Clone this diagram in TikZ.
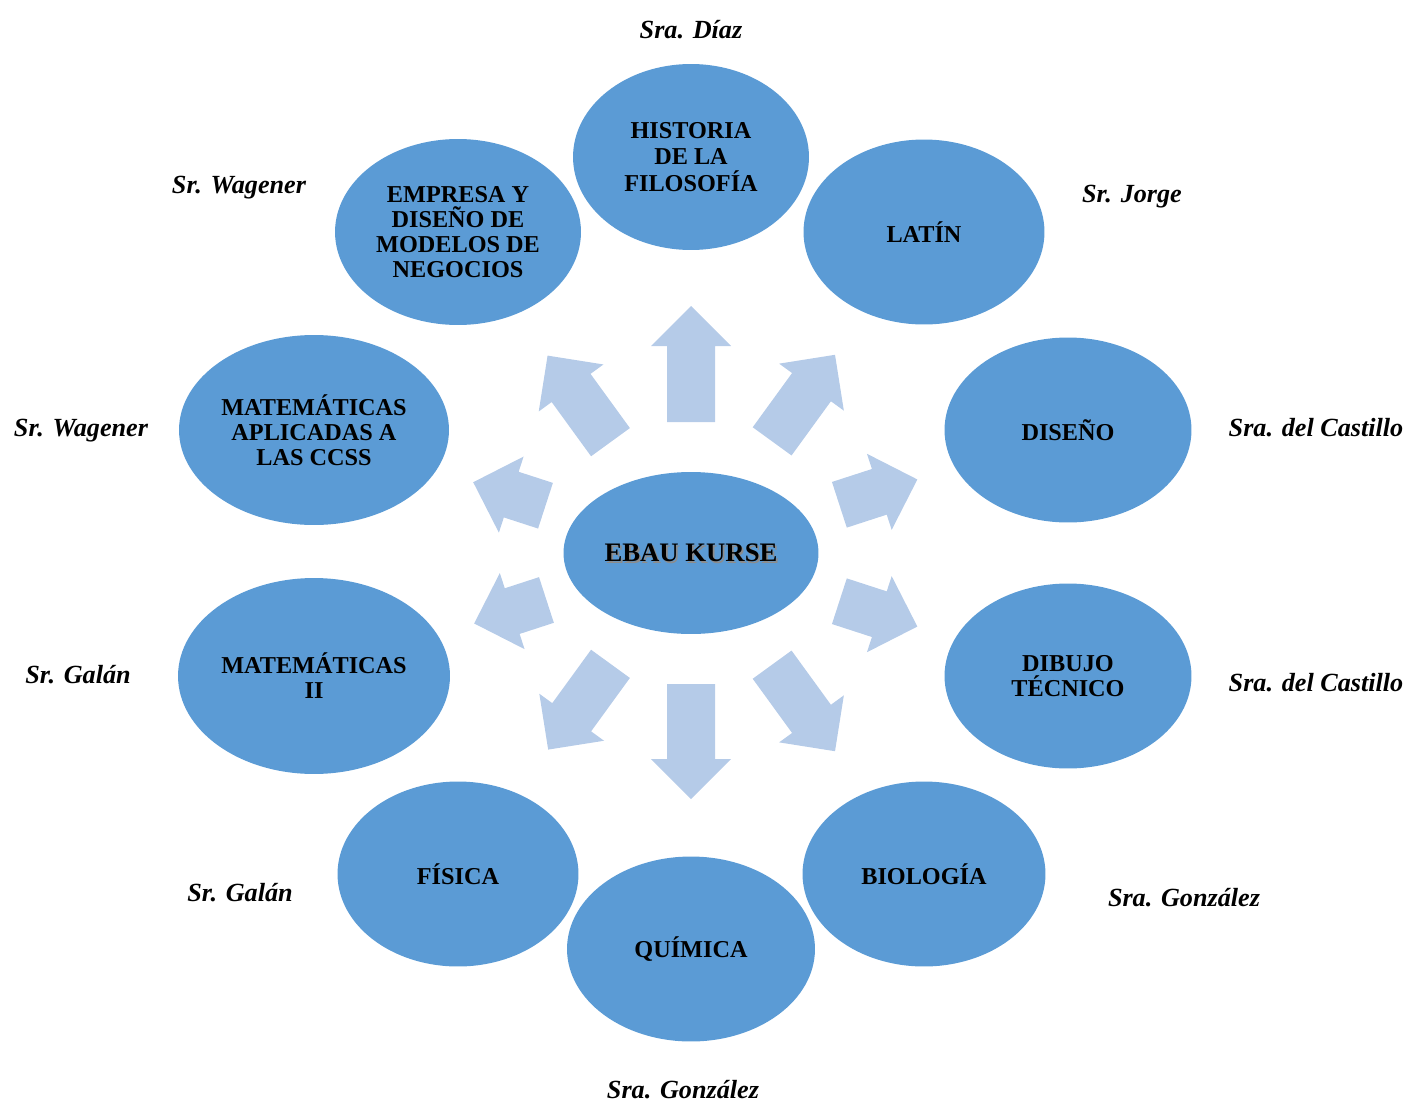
\documentclass[tikz,border=0pt]{standalone}
\usepackage{fontspec}
\setmainfont{Liberation Serif}
\usetikzlibrary{shapes.geometric}
\definecolor{kreis}{HTML}{5B9BD5}
\definecolor{pfeil}{HTML}{B5CBE8}

\begin{document}
\begin{tikzpicture}[x=0.02cm,y=-0.02cm,
  fach/.style={ellipse,fill=kreis,inner sep=0pt,align=center,
    font=\fontsize{13.8}{14.2}\selectfont\bfseries},
  lehrer/.style={font=\fontsize{14.9}{16}\selectfont\bfseries\itshape}]
 \useasboundingbox (0,0) rectangle (1406,1102);
 % mitte
 \node[fach,minimum width=5.10cm,minimum height=3.24cm] (ebau) at (691,553) {};
 \node[text=black!45,font=\fontsize{15.2}{17}\selectfont\bfseries] at ([xshift=1pt,yshift=-1pt]ebau.center) {EBAU KURSE};
 \node[font=\fontsize{15.2}{17}\selectfont\bfseries] (ebaut) at (ebau.center) {EBAU KURSE};
 % pfeile
 \foreach \a/\ra/\rb in {90/131/247,54/138/245,18/156/238,-18/156/238,-54/138/245,
   -90/131/246,-126/137/243,-162/152/228,162/153/229,126/137/244}
  \fill[pfeil,shift={(ebau.center)},rotate=\a] (\ra,24)--(\rb-40,24)--(\rb-40,40)--(\rb,0)
   --(\rb-40,-40)--(\rb-40,-24)--(\ra,-24)--cycle;
 % faecher
 \node[fach,minimum width=4.72cm,minimum height=3.72cm,font=\fontsize{13.8}{15.3}\selectfont\bfseries] (hist) at (691,157) {HISTORIA\\DE LA\\FILOSOFÍA};
 \node[fach,minimum width=4.82cm,minimum height=3.70cm] (latin) at (924,232) {LATÍN};
 \node[fach,minimum width=4.94cm,minimum height=3.70cm] (diseno) at (1068,430) {DISEÑO};
 \node[fach,minimum width=4.94cm,minimum height=3.70cm] (dibujo) at (1068,676) {DIBUJO\\TÉCNICO};
 \node[fach,minimum width=4.86cm,minimum height=3.70cm] (bio) at (924,874) {BIOLOGÍA};
 \node[fach,minimum width=4.96cm,minimum height=3.70cm] (quimica) at (691,949) {QUÍMICA};
 \node[fach,minimum width=4.82cm,minimum height=3.70cm] (fisica) at (458,874) {FÍSICA};
 \node[fach,minimum width=5.44cm,minimum height=3.92cm] (mate) at (314,676) {MATEMÁTICAS\\II};
 \node[fach,minimum width=5.40cm,minimum height=3.80cm] (macs) at (314,430) {MATEMÁTICAS\\APLICADAS A\\LAS CCSS};
 \node[fach,minimum width=4.92cm,minimum height=3.72cm] (empresa) at (458,232) {EMPRESA Y\\DISEÑO DE\\MODELOS DE\\NEGOCIOS};
 % lehrer
 \node[lehrer] (l1) at (691,30) {Sra. Díaz};
 \node[lehrer] (l2) at (1132,197) {Sr. Jorge};
 \node[lehrer] (l3) at (1316,428) {Sra. del Castillo};
 \node[lehrer] (l4) at (1316,683) {Sra. del Castillo};
 \node[lehrer] (l5) at (1184,898) {Sra. González};
 \node[lehrer] (l6) at (683,1090) {Sra. González};
 \node[lehrer] (l7) at (240,893) {Sr. Galán};
 \node[lehrer] (l8) at (78,675) {Sr. Galán};
 \node[lehrer] (l9) at (81,431) {Sr. Wagener};
 \node[lehrer] (l10) at (239,188) {Sr. Wagener};
\end{tikzpicture}
\end{document}
